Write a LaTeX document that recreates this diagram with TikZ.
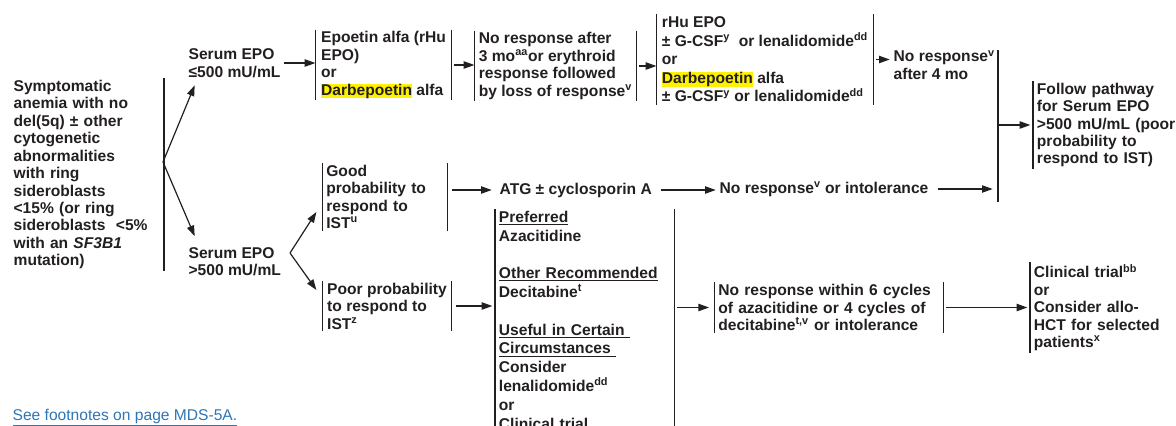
\documentclass[tikz,border=0pt]{standalone}
\usepackage{fontspec}
\setmainfont{Liberation Sans}
\usetikzlibrary{arrows.meta}
\definecolor{ink}{RGB}{35,31,32}
\definecolor{linkblue}{RGB}{46,117,182}
\newcommand{\hlbox}[1]{{\setlength{\fboxsep}{0pt}\colorbox{yellow}{\rule[-1.8pt]{0pt}{10.2pt}#1}}}
\newcommand{\txtsize}{\bfseries\fontsize{11.7}{13.1}\selectfont}
\begin{document}
\begin{tikzpicture}[x=0.75pt,y=-0.75pt,color=ink,line width=0.9pt,
    every node/.style={font=\txtsize,align=left,inner xsep=2.5pt,inner ysep=1pt},
    arr/.style={-{Triangle[length=8pt,width=5.5pt]}},
    lbar/.style={append after command={(\tikzlastnode.north west) edge (\tikzlastnode.south west)}},
    rbar/.style={append after command={(\tikzlastnode.north east) edge (\tikzlastnode.south east)}},
    bars/.style={lbar,rbar}]
\useasboundingbox (0,0) rectangle (1176,425);
\clip (0,0) rectangle (1176,425);

% start
\node[rbar,anchor=north west,text width=109.75pt,minimum height=138.75pt] (anemia) at (9.7,78)
    {Symptomatic\\anemia with no\\del(5q) ± other\\cytogenetic\\abnormalities\\with ring\\sideroblasts\\<15\% (or ring\\sideroblasts\ \ <5\%\\with an \textit{SF3B1}\\mutation)};
\coordinate (fork) at (163,162);
\node[anchor=west] (epolow) at (184.7,63) {Serum EPO\\≤500 mU/mL};
\node[anchor=west] (epohigh) at (184.7,261.5) {Serum EPO\\>500 mU/mL};

% upper row
\node[bars,minimum width=101.25pt,minimum height=48pt] (esa) at (383.5,65)
    {Epoetin alfa (rHu\\EPO)\\or\\\hlbox{Darbepoetin} alfa};
\node[bars,minimum width=120.75pt,minimum height=49.5pt] (noresp) at (555.5,66)
    {No response after\\3 mo\textsuperscript{aa}or erythroid\\response followed\\by loss of response\textsuperscript{v}};
\node[bars,minimum width=162pt,minimum height=66.75pt,font=\bfseries\fontsize{11.7}{13.9}\selectfont] (esa2) at (765,59.5)
    {rHu EPO\\± G-CSF\textsuperscript{y}\ \ or lenalidomide\textsuperscript{dd}\\or\\\hlbox{Darbepoetin} alfa\\± G-CSF\textsuperscript{y} or lenalidomide\textsuperscript{dd}};
\node[anchor=west] (fourmo) at (889.7,65) {No response\textsuperscript{v}\\after 4 mo};
\coordinate (jtop) at (998,50);
\coordinate (jbot) at (998,202);
\node[lbar,anchor=west,text width=105pt,minimum height=64.5pt] (follow) at (1033,125)
    {Follow pathway\\for Serum EPO\\>500 mU/mL (poor\\probability to\\respond to IST)};

% lower rows
\coordinate (split) at (290,253);
\node[bars,text width=88pt,minimum height=49.5pt] (good) at (385,197)
    {Good\\probability to\\respond to\\IST\textsuperscript{u}};
\node[bars,minimum width=96pt,minimum height=36pt] (poor) at (387,306)
    {Poor probability\\to respond to\\IST\textsuperscript{z}};
\node[anchor=west] (atg) at (495.7,190) {ATG ± cyclosporin A};
\node[anchor=west] (nrint) at (715.7,189) {No response\textsuperscript{v} or intolerance};
\node[bars,anchor=north west,text width=128.5pt,font=\bfseries\fontsize{11.7}{14.1}\selectfont] (hma) at (495,209)
    {\underline{Preferred}\\Azacitidine\\[14.1pt]\underline{Other Recommended}\\Decitabine\textsuperscript{t}\\[14.1pt]\underline{Useful in Certain\ }\\\underline{Circumstances\ }\\Consider\\lenalidomide\textsuperscript{dd}\\or\\Clinical trial};
\node[bars,text width=166pt,minimum height=36.75pt] (nocycle) at (829,307.5)
    {No response within 6 cycles\\of azacitidine or 4 cycles of\\decitabine\textsuperscript{t,v} or intolerance};
\node[lbar,anchor=west,text width=110pt,minimum height=63.75pt] (trial) at (1030,307.5)
    {Clinical trial\textsuperscript{bb}\\or\\Consider allo-\\HCT for selected\\patients\textsuperscript{x}};

\node[anchor=base west,font=\fontsize{11.7}{13.1}\selectfont,text=linkblue] (note) at (8.7,420)
    {\underline{See footnotes on page MDS-5A.}};

% connectors
\draw[arr] (fork) -- ([shift={(10,6)}]epolow.south west);
\draw[arr] (fork) -- ([shift={(10,-9)}]epohigh.north west);
\draw[arr] (epolow.east) -- (epolow.east -| esa.west);
\draw[arr,shorten <=2pt] (esa.east) -- (esa.east -| noresp.west);
\draw[arr,shorten <=2pt] (noresp.east) -- (noresp.east -| esa2.west);
\draw[arr,shorten <=2pt] (esa2.east) -- (esa2.east -| fourmo.west);
\draw (jtop) -- (jbot);
\draw[arr,shorten >=2pt] (jtop |- follow.west) -- (follow.west);
\draw[arr] (split) -- ([shift={(-6,15)}]good.west);
\draw[arr] (split) -- ([shift={(-6,-16)}]poor.west);
\draw[arr,shorten <=3pt,shorten >=3pt] (good.east |- atg.west) -- (atg.west);
\draw[arr,shorten <=4pt] (atg.east) -- (atg.east -| nrint.west);
\draw[arr,shorten <=4pt,shorten >=4pt] (nrint.east) -- (nrint.east -| jbot);
\draw[arr,shorten <=3pt,shorten >=2pt] (poor.east) -- (poor.east -| hma.west);
\draw[arr,shorten <=2pt,shorten >=4pt] (hma.east |- nocycle.west) -- (nocycle.west);
\draw[arr,shorten <=2pt,shorten >=2pt] (nocycle.east) -- (nocycle.east -| trial.west);
\end{tikzpicture}
\end{document}
